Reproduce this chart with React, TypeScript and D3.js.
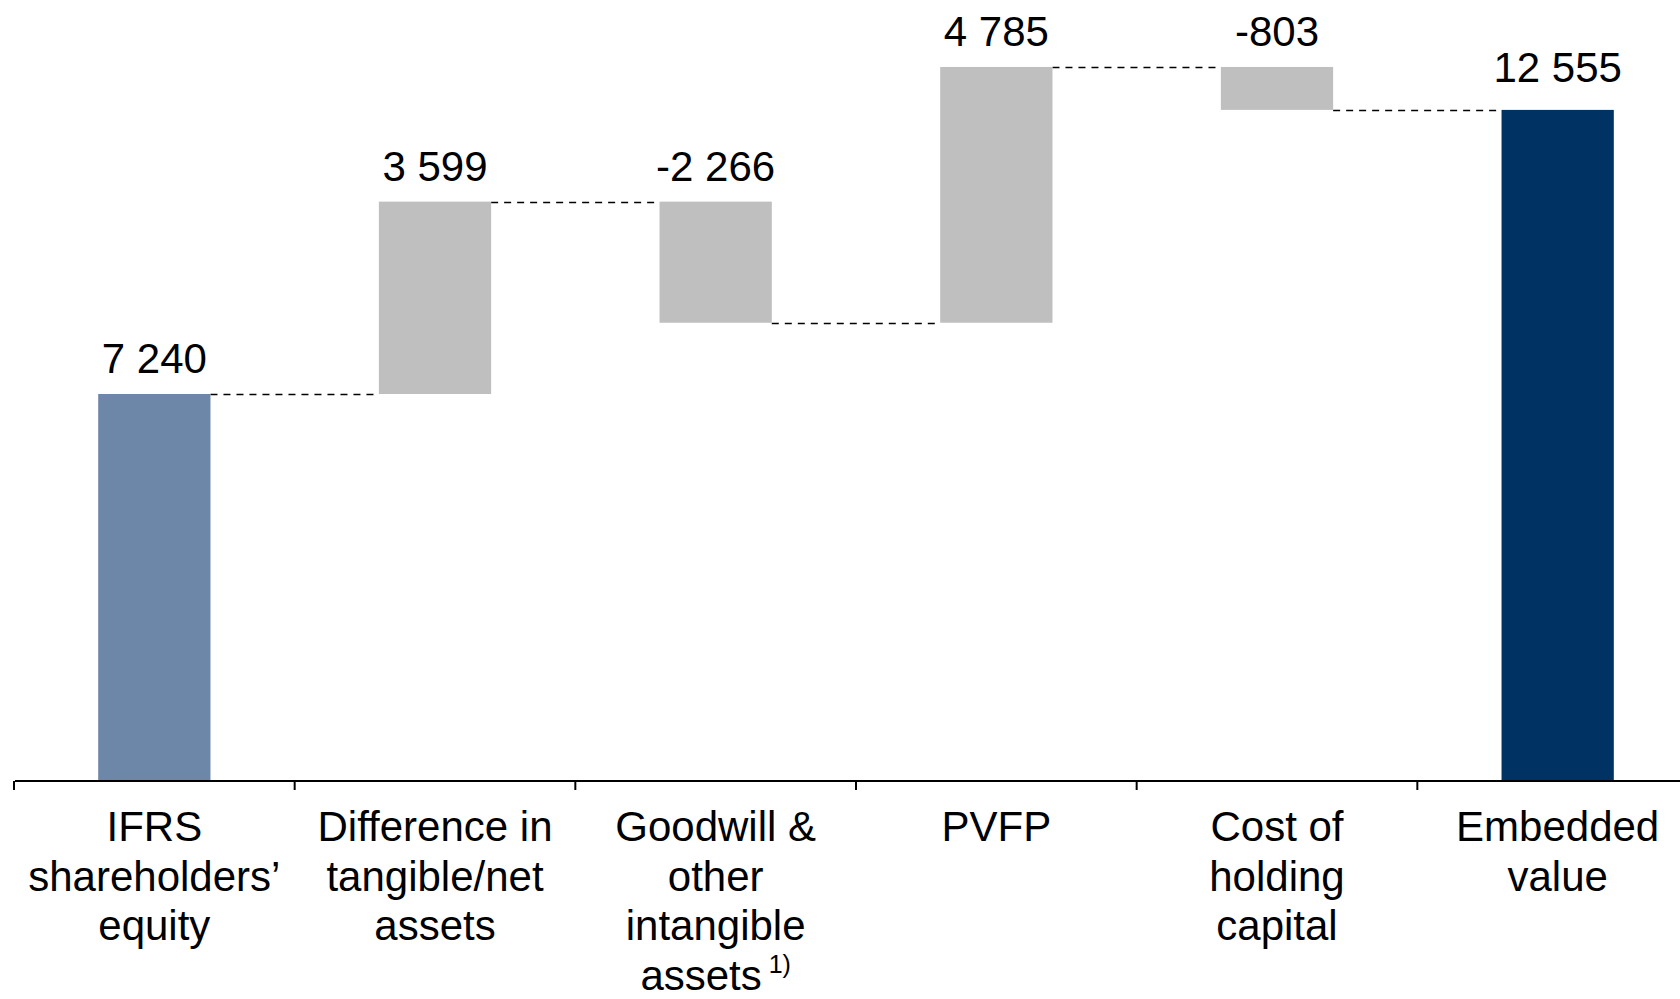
import React from "react";
import * as d3 from "d3";

// Embedded value bridge: from IFRS equity to embedded value
const categories: string[][] = [
  ["IFRS", "shareholders’", "equity"],
  ["Difference in", "tangible/net", "assets"],
  ["Goodwill &", "other", "intangible", "assets"],
  ["PVFP"],
  ["Cost of", "holding", "capital"],
  ["Embedded", "value"],
];
const keys = ["ifrs", "diff", "goodwill", "pvfp", "coc", "ev"];
const values = [7240, 3599, -2266, 4785, -803, 12555];
const valueLabels = ["7 240", "3 599", "-2 266", "4 785", "-803", "12 555"];
const kinds = ["start", "delta", "delta", "delta", "delta", "total"];
const footnotes = ["", "", "1)", "", "", ""];

const W = 1680;
const H = 999;
const FONT = "'Liberation Sans', Arial, Helvetica, sans-serif";
const COLORS: Record<string, string> = {
  start: "#6d87a8",
  delta: "#bfbfbf",
  total: "#003263",
};

export default function App() {
  const baseY = 781;
  const x = d3
    .scaleBand<string>()
    .domain(keys)
    .range([14, 1698])
    .paddingInner(0.6)
    .paddingOuter(0.3);
  const y = d3.scaleLinear().domain([0, 7240]).range([baseY, 394]);

  // running totals for floating bars
  let run = 0;
  const bars = values.map((v, i) => {
    let lo: number, hi: number;
    if (kinds[i] === "delta") {
      const start = run;
      run += v;
      lo = Math.min(start, run);
      hi = Math.max(start, run);
    } else {
      lo = 0;
      hi = v;
      run = v;
    }
    return { key: keys[i], lo, hi, end: run, kind: kinds[i] };
  });

  const step = x.step();
  const left0 = (x(keys[0]) as number) - (step - x.bandwidth()) / 2;
  const tickXs = d3.range(keys.length + 1).map((i) => left0 + i * step);

  return (
    <svg
      width={W}
      height={H}
      style={{ position: "absolute", left: 0, top: 0, background: "#fff" }}
      fontFamily={FONT}
    >
      {/* connectors between consecutive bars */}
      {bars.slice(0, -1).map((b, i) => {
        const x1 = (x(b.key) as number) + x.bandwidth();
        const x2 = x(bars[i + 1].key) as number;
        const yy = Math.round(y(b.end)) + 0.5;
        return (
          <line
            key={"c" + i}
            x1={x1}
            x2={x2}
            y1={yy}
            y2={yy}
            stroke="#000"
            strokeWidth={1.5}
            strokeDasharray="7,6"
          />
        );
      })}

      {bars.map((b, i) => (
        <g key={b.key}>
          <rect
            x={x(b.key)}
            y={y(b.hi)}
            width={x.bandwidth()}
            height={y(b.lo) - y(b.hi)}
            fill={COLORS[b.kind]}
          />
          <text
            x={(x(b.key) as number) + x.bandwidth() / 2}
            y={y(b.hi) - (b.kind === "total" ? 28 : 21)}
            textAnchor="middle"
            fontSize={42}
            fill="#000"
          >
            {valueLabels[i]}
          </text>
        </g>
      ))}

      {/* category axis */}
      <line x1={15} x2={W} y1={baseY} y2={baseY} stroke="#000" strokeWidth={2} />
      {tickXs.map((tx, i) => (
        <line key={"t" + i} x1={tx} x2={tx} y1={baseY} y2={baseY + 9} stroke="#000" strokeWidth={2} />
      ))}

      {categories.map((lines, i) => {
        const cx = (x(keys[i]) as number) + x.bandwidth() / 2;
        return (
          <text key={"l" + i} textAnchor="middle" fontSize={42} fill="#000">
            {lines.map((ln, j) => (
              <tspan key={j} x={cx} y={841 + j * 49.5}>
                {ln}
                {j === lines.length - 1 && footnotes[i] ? (
                  <tspan fontSize={25} dy={-17}>{" " + footnotes[i]}</tspan>
                ) : null}
              </tspan>
            ))}
          </text>
        );
      })}
    </svg>
  );
}
